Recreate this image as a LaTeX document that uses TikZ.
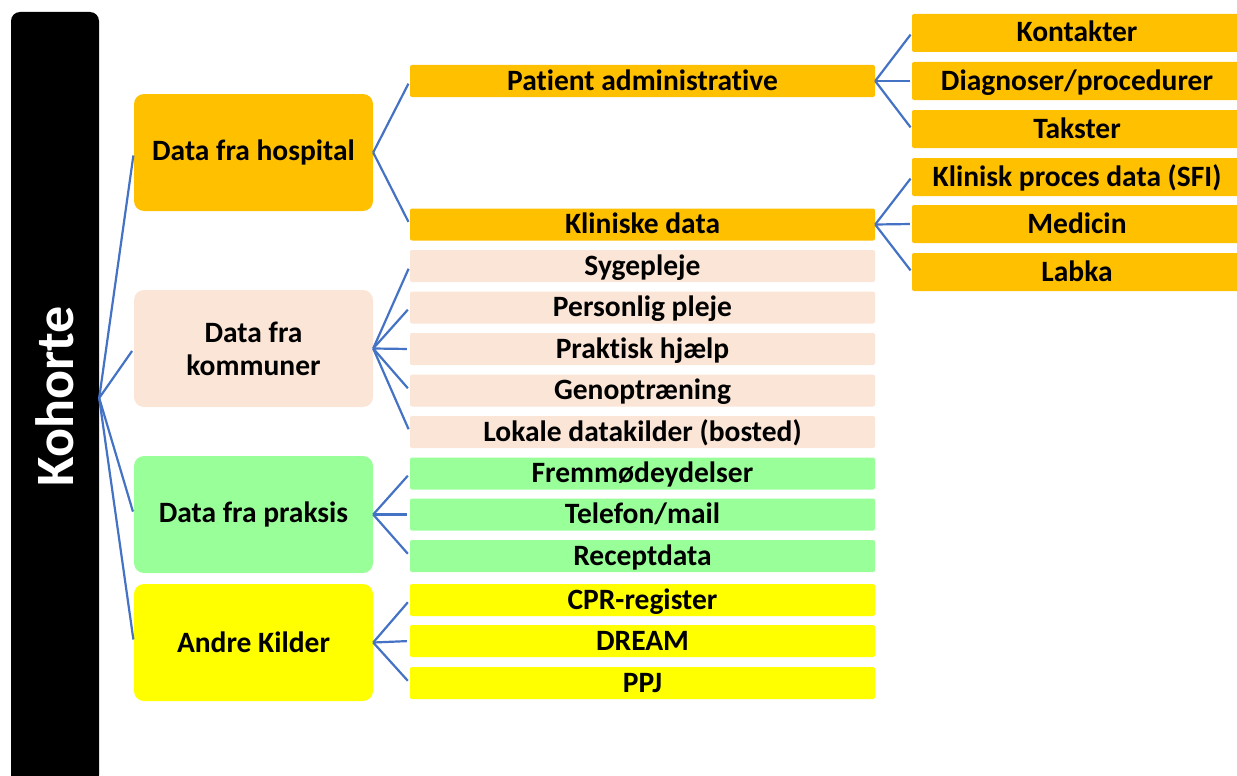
\documentclass[tikz,border=0pt]{standalone}
\usepackage{fontspec}
\setmainfont{Carlito}[Ligatures={NoCommon}]
\definecolor{org}{HTML}{FFC000}
\definecolor{peach}{HTML}{FBE5D6}
\definecolor{pgreen}{HTML}{99FF99}
\definecolor{yel}{HTML}{FFFF00}
\definecolor{lblue}{HTML}{4472C4}
\begin{document}
\begin{tikzpicture}[x=1pt,y=-1pt,
  lvlone/.style={rounded corners=10pt,inner sep=0pt,minimum width=239pt,minimum height=117pt,align=center,font=\fontsize{29.5}{33}\selectfont\bfseries},
  lvltwo/.style={rounded corners=2pt,inner sep=0pt,minimum width=465pt,minimum height=32pt,text height=22pt,text depth=4pt,font=\fontsize{29.5}{33}\selectfont\bfseries},
  lvlthree/.style={rounded corners=2pt,inner sep=0pt,minimum width=330pt,minimum height=38pt,text height=22pt,text depth=4pt,font=\fontsize{29.5}{33}\selectfont\bfseries},
  conn/.style={draw=lblue,line width=2.2pt}]
\useasboundingbox (0,0) rectangle (1237,776);
% Kohorte bar
\node[fill=black,rounded corners=9pt,minimum width=88pt,minimum height=772pt,inner sep=0pt] (bar) at (55,398) {};
\node[rotate=90,text=white,font=\fontsize{54}{60}\selectfont\bfseries] (kt) at (55,396) {Kohorte};
% level 1
\node[lvlone,fill=org] (hosp) at (253.5,152.5) {Data fra hospital};
\node[lvlone,fill=peach] (komm) at (253.5,348.5) {Data fra\\kommuner};
\node[lvlone,fill=pgreen] (prak) at (253.5,514.5) {Data fra praksis};
\node[lvlone,fill=yel] (andre) at (253.5,642.5) {Andre Kilder};
% level 2
\node[lvltwo,fill=org] (pa) at (642.5,81) {Patient administrative};
\node[lvltwo,fill=org] (kd) at (642.5,224.5) {Kliniske data};
\node[lvltwo,fill=peach] (syg) at (642.5,266) {Sygepleje};
\node[lvltwo,fill=peach] (pers) at (642.5,307.5) {Personlig pleje};
\node[lvltwo,fill=peach] (prakh) at (642.5,349) {Praktisk hjælp};
\node[lvltwo,fill=peach] (gen) at (642.5,390.5) {Genoptræning};
\node[lvltwo,fill=peach] (lok) at (642.5,432) {Lokale datakilder (bosted)};
\node[lvltwo,fill=pgreen] (frem) at (642.5,473.5) {Fremmødeydelser};
\node[lvltwo,fill=pgreen] (tel) at (642.5,514.5) {Telefon/mail};
\node[lvltwo,fill=pgreen] (rec) at (642.5,556) {Receptdata};
\node[lvltwo,fill=yel] (cpr) at (642.5,600) {CPR-register};
\node[lvltwo,fill=yel] (dream) at (642.5,641) {DREAM};
\node[lvltwo,fill=yel] (ppj) at (642.5,683) {PPJ};
% level 3
\node[lvlthree,fill=org] (kon) at (1077,33) {Kontakter};
\node[lvlthree,fill=org] (diag) at (1077,81) {Diagnoser/procedurer};
\node[lvlthree,fill=org] (tak) at (1077,129) {Takster};
\node[lvlthree,fill=org] (klin) at (1077,177) {Klinisk proces data (SFI)};
\node[lvlthree,fill=org] (med) at (1077,224) {Medicin};
\node[lvlthree,fill=org] (lab) at (1077,272) {Labka};
% connectors
\foreach \t in {hosp,komm,prak,andre} \draw[conn,shorten >=3pt] (bar.east) -- (\t.west);
\foreach \t in {pa,kd} \draw[conn,shorten >=3pt] (hosp.east) -- (\t.west);
\foreach \t in {syg,pers,prakh,gen,lok} \draw[conn,shorten >=3pt] (komm.east) -- (\t.west);
\foreach \t in {frem,tel,rec} \draw[conn,shorten >=3pt] (prak.east) -- (\t.west);
\foreach \t in {cpr,dream,ppj} \draw[conn,shorten >=3pt] (andre.east) -- (\t.west);
\foreach \t in {kon,diag,tak} \draw[conn,shorten >=2pt] (pa.east) -- (\t.west);
\foreach \t in {klin,med,lab} \draw[conn,shorten >=2pt] (kd.east) -- (\t.west);
\end{tikzpicture}
\end{document}
